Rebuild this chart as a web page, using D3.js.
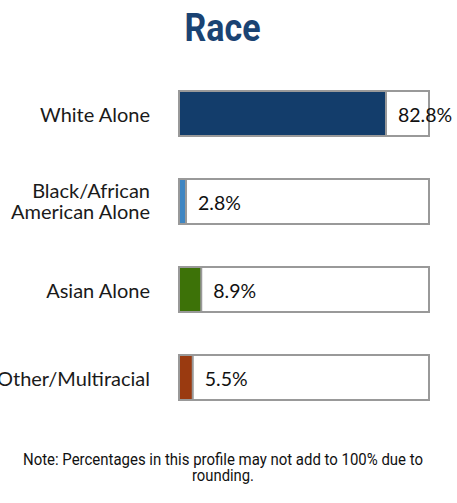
<!DOCTYPE html>
<html>
<head>
<meta charset="utf-8">
<script src="https://cdn.jsdelivr.net/npm/d3@7"></script>
<style>
  html, body { margin: 0; padding: 0; background: #fff; }
  svg { display: block; }
</style>
</head>
<body>
<svg id="chart" width="457" height="503"></svg>
<script>
const categories = ["White Alone", "Black/African American Alone", "Asian Alone", "Other/Multiracial"];
const labelLines = [["White Alone"], ["Black/African", "American Alone"], ["Asian Alone"], ["Other/Multiracial"]];
const values = [82.8, 2.8, 8.9, 5.5];
const valueLabels = ["82.8%", "2.8%", "8.9%", "5.5%"];
const barColors = ["#133d6b", "#3f86c2", "#3d7208", "#9a3a10"];
const title = "Race";
const noteLines = ["Note: Percentages in this profile may not add to 100% due to", "rounding."];
const noteWidths = [400, 62];

const svg = d3.select("#chart");

const x = d3.scaleLinear().domain([0, 100]).range([179, 429]);
const y = d3.scaleBand().domain(categories).range([91, 400]).paddingInner(43 / 88).paddingOuter(0);

svg.append("text")
  .attr("x", 222.5).attr("y", 41)
  .attr("text-anchor", "middle")
  .attr("font-family", "Roboto, sans-serif")
  .attr("font-weight", "bold")
  .attr("font-size", 38)
  .attr("textLength", 76)
  .attr("lengthAdjust", "spacingAndGlyphs")
  .attr("fill", "#1a4373")
  .text(title);

const g = svg.append("g");

// background boxes
g.selectAll("rect.bg").data(categories).enter().append("rect")
  .attr("class", "bg")
  .attr("x", x(0)).attr("y", d => y(d))
  .attr("width", x(100) - x(0)).attr("height", y.bandwidth())
  .attr("fill", "#fff").attr("stroke", "#999").attr("stroke-width", 2);

// value fills
g.selectAll("rect.val").data(categories).enter().append("rect")
  .attr("class", "val")
  .attr("x", x(0)).attr("y", d => y(d))
  .attr("width", (d, i) => x(values[i]) - x(0)).attr("height", y.bandwidth())
  .attr("fill", (d, i) => barColors[i]).attr("stroke", "#999").attr("stroke-width", 2);

// value labels
g.selectAll("text.vl").data(categories).enter().append("text")
  .attr("class", "vl")
  .attr("x", (d, i) => x(values[i]) + 12)
  .attr("y", d => y(d) + y.bandwidth() / 2)
  .attr("dy", "0.42em")
  .attr("font-family", "Lato, sans-serif")
  .attr("font-size", 19.5)
  .attr("fill", "#111")
  .text((d, i) => valueLabels[i]);

// category labels
categories.forEach((c, i) => {
  const lines = labelLines[i];
  const cy = y(c) + y.bandwidth() / 2;
  const lh = 21;
  const t = g.append("text")
    .attr("text-anchor", "end")
    .attr("font-family", "Lato, sans-serif")
    .attr("font-size", 20)
    .attr("fill", "#1a1a1a");
  lines.forEach((ln, j) => {
    t.append("tspan")
      .attr("x", 150)
      .attr("y", cy + (j - (lines.length - 1) / 2) * lh)
      .attr("dy", lines.length > 1 ? "0.37em" : "0.42em")
      .text(ln);
  });
});

// note
noteLines.forEach((ln, j) => {
  svg.append("text")
    .attr("text-anchor", "middle")
    .attr("x", 223).attr("y", 465 + j * 16)
    .attr("font-family", "Roboto, sans-serif")
    .attr("font-size", 16)
    .attr("textLength", noteWidths[j])
    .attr("lengthAdjust", "spacingAndGlyphs")
    .attr("fill", "#111")
    .text(ln);
});
</script>
</body>
</html>
